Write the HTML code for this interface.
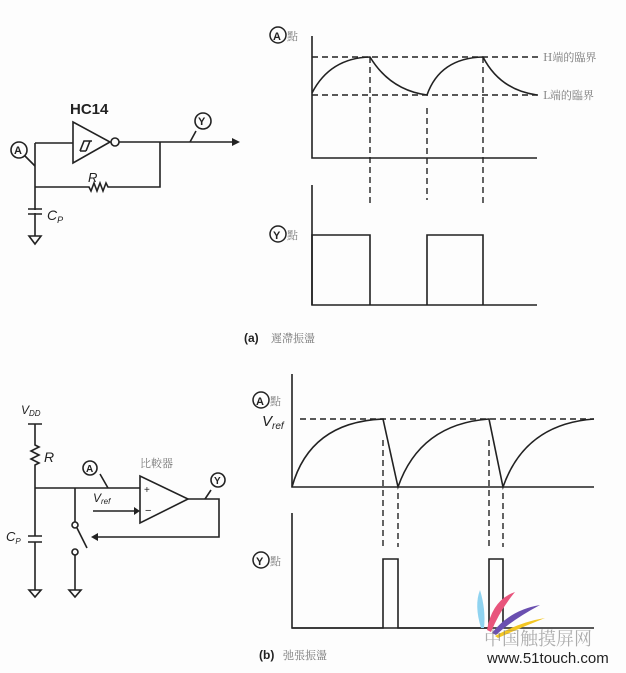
<!DOCTYPE html>
<html><head><meta charset="utf-8"><style>
html,body{margin:0;padding:0;background:#fff;}
svg{display:block;}
text{font-family:"Liberation Sans","Noto Sans CJK TC",sans-serif;fill:#222;}
.cj{font-family:"Noto Serif CJK SC","Noto Sans CJK TC",serif;fill:#777;}
</style></head><body>
<svg width="626" height="673" viewBox="0 0 626 673" xmlns="http://www.w3.org/2000/svg">
<rect width="626" height="673" fill="#fdfdfd"/>
<!-- circuit a -->
<g fill="none" stroke="#222" stroke-width="1.6">
<path d="M35 143 V236 M35 143 H73 M73 122 V163 L110 142 Z"/>
<path d="M80 151 l4 -10 h8 M80 151 h6 M86 151 l4 -10"/>
<circle cx="115" cy="142" r="4"/>
<path d="M119 142 H232 M160 142 V187 H108 l-2 -4 -3 8 -3 -8 -3 8 -3 -8 -3 8 -2 -4 H35"/>
<path d="M28 209 H42 M28 214 H42"/>
<path d="M29 236 H41 L35 244 Z"/>
<path d="M190 142 l6 -11 M35 166 l-10 -10"/>
<circle cx="203" cy="121" r="8"/>
<circle cx="19" cy="150" r="8"/>
</g>
<rect x="30" y="210" width="10" height="3" fill="#fdfdfd"/>
<path d="M232 138 L240 142 L232 146 Z" fill="#222"/>
<text x="70" y="114" font-size="15" font-weight="bold">HC14</text>
<text x="88" y="182" font-size="13" font-style="italic">R</text>
<text x="47" y="220" font-size="14" font-style="italic">C<tspan font-size="9" dy="3">P</tspan></text>
<text x="198" y="125" font-size="11" font-weight="bold">Y</text>
<text x="14" y="154" font-size="11" font-weight="bold">A</text>

<!-- graph a -->
<g fill="none" stroke="#222" stroke-width="1.6">
<path d="M312 36 V158 H537 M312 185 V305 H537"/>
<path d="M312 93 Q330 58 370 57 Q390 90 427 95 Q440 58 483 57 Q500 90 537 95"/>
<path d="M312 305 V235 H370 V305 M427 305 V235 H483 V305"/>
</g>
<g fill="none" stroke="#222" stroke-width="1.4" stroke-dasharray="6,4">
<path d="M312 57 H540 M312 95 H540 M370 57 V203 M427 108 V200 M483 57 V203"/>
</g>
<circle cx="278" cy="35" r="8" fill="none" stroke="#222" stroke-width="1.5"/>
<text x="273" y="40" font-size="11" font-weight="bold">A</text>
<text x="287" y="40" font-size="11" class="cj">點</text>
<circle cx="278" cy="234" r="8" fill="none" stroke="#222" stroke-width="1.5"/>
<text x="273" y="239" font-size="11" font-weight="bold">Y</text>
<text x="287" y="239" font-size="11" class="cj">點</text>
<text x="543" y="61" font-size="11" class="cj">H端的臨界</text>
<text x="543" y="99" font-size="11" class="cj">L端的臨界</text>
<text x="244" y="342" font-size="12" font-weight="bold">(a)</text>
<text x="271" y="342" font-size="11" class="cj">遲滯振盪</text>

<!-- circuit b -->
<g fill="none" stroke="#222" stroke-width="1.6">
<path d="M28 424 H42 M35 424 V445 l4 2 -8 4 8 4 -8 4 8 4 -4 2 V536 M35 542 V590"/>
<path d="M28 536 H42 M28 542 H42"/>
<path d="M35 488 H140 M75 488 V522 M140 476 V523 L188 499 Z"/>
<path d="M93 511 H135"/>
<path d="M188 499 H219 V537 H98"/>
<circle cx="75" cy="525" r="3"/>
<path d="M77 528 L87 548"/>
<circle cx="75" cy="552" r="3"/>
<path d="M75 555 V590"/>
<path d="M29 590 H41 L35 597 Z M69 590 H81 L75 597 Z"/>
<path d="M108 488 l-8 -14 M205 499 l6 -9"/>
<circle cx="90" cy="468" r="7"/>
<circle cx="218" cy="480" r="7"/>
</g>
<path d="M134 507 L140 511 L134 515 Z M98 533 L91 537 L98 541 Z" fill="#222"/>
<text x="21" y="414" font-size="12" font-style="italic">V<tspan font-size="8" dy="2">DD</tspan></text>
<text x="44" y="462" font-size="14" font-style="italic">R</text>
<text x="6" y="541" font-size="13" font-style="italic">C<tspan font-size="8" dy="3">P</tspan></text>
<text x="93" y="502" font-size="12" font-style="italic">V<tspan font-size="8" dy="2">ref</tspan></text>
<text x="144" y="493" font-size="10">+</text>
<text x="145" y="514" font-size="11">−</text>
<text x="140" y="467" font-size="11" class="cj">比較器</text>
<text x="86" y="472" font-size="10" font-weight="bold">A</text>
<text x="214" y="484" font-size="10" font-weight="bold">Y</text>

<!-- graph b -->
<g fill="none" stroke="#222" stroke-width="1.6">
<path d="M292 374 V487 H594 M292 513 V628 H594"/>
<path d="M292 487 Q310 422 383 419 L398 487 Q420 424 489 419 L503 487 Q525 424 594 419"/>
<path d="M292 628 H383 V559 H398 V628 H489 V559 H503 V628"/>
</g>
<g fill="none" stroke="#222" stroke-width="1.4" stroke-dasharray="6,4">
<path d="M300 419 H594 M383 440 V547 M398 493 V547 M489 440 V547 M503 493 V547"/>
</g>
<circle cx="261" cy="400" r="8" fill="none" stroke="#222" stroke-width="1.5"/>
<text x="256" y="405" font-size="11" font-weight="bold">A</text>
<text x="270" y="405" font-size="11" class="cj">點</text>
<text x="262" y="426" font-size="15" font-style="italic">V<tspan font-size="10" dy="3">ref</tspan></text>
<circle cx="261" cy="560" r="8" fill="none" stroke="#222" stroke-width="1.5"/>
<text x="256" y="565" font-size="11" font-weight="bold">Y</text>
<text x="270" y="565" font-size="11" class="cj">點</text>
<text x="259" y="659" font-size="12" font-weight="bold">(b)</text>
<text x="283" y="659" font-size="11" class="cj">弛張振盪</text>
<path d="M481 628 Q474 605 480 590 Q486 610 484 628 Z" fill="#8fd3f0"/>
<path d="M487 630 Q492 600 515 592 Q500 610 491 632 Z" fill="#e8547c"/>
<path d="M492 633 Q510 610 540 605 Q512 620 496 635 Z" fill="#6a4fb0"/>
<path d="M495 636 Q520 622 545 618 Q520 628 498 638 Z" fill="#f3c623"/>
<text x="484" y="645" font-size="18" class="cj" fill-opacity="0.6">中国触摸屏网</text>
<text x="487" y="663" font-size="15" fill="#aaa">www.51touch.com</text>
</svg>
</body></html>
